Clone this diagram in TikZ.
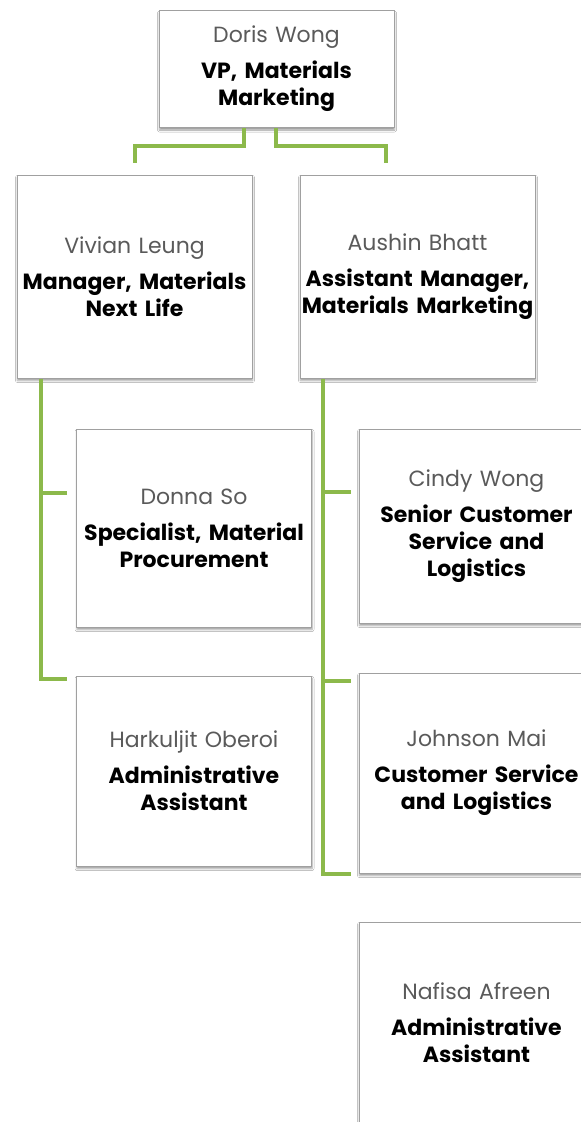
\documentclass[tikz,border=0pt]{standalone}
\usepackage{fontspec}
\setmainfont{Poppins}
\usetikzlibrary{shadows.blur}
\definecolor{branchgreen}{RGB}{140,185,75}
\definecolor{namegray}{RGB}{90,90,90}
\definecolor{edgegray}{RGB}{160,160,160}

\newcommand{\person}[2]{{\color{namegray}#1}\par\vspace{9pt}{\bfseries #2}}

\tikzset{
  card/.style={draw=edgegray, line width=1pt, fill=white, minimum width=235pt,
    text width=235pt, inner sep=0pt, align=center, font=\fontsize{22}{27}\selectfont,
    blur shadow={shadow xshift=0.5pt, shadow yshift=-2.5pt, shadow blur radius=2pt, shadow opacity=40}},
  conn/.style={draw=branchgreen, line width=4pt},
}

\begin{document}
\begin{tikzpicture}[x=1pt, y=-1pt]
  \clip (0,0) rectangle (581,1122);
  \fill[white] (0,0) rectangle (581,1122);

  % top
  \node[card, minimum height=117pt] (doris) at (276.5,69) {\person{Doris Wong}{VP, Materials\\Marketing}};
  \node[card, minimum height=203pt] (vivian) at (134.5,276.5) {\person{Vivian Leung}{Manager, Materials\\Next Life}};
  \node[card, minimum height=203pt] (aushin) at (417.5,276.5) {\person{Aushin Bhatt}{Assistant Manager,\\Materials Marketing}};

  % left column
  \node[card, minimum height=198pt] (donna) at (194,528) {\person{Donna So}{Specialist, Material\\Procurement}};
  \node[card, minimum height=190pt] (harkuljit) at (194,771) {\person{Harkuljit Oberoi}{Administrative\\Assistant}};

  % right column
  \node[card, minimum height=194pt] (cindy) at (476.5,526) {\person{Cindy Wong}{Senior Customer\\Service and\\Logistics}};
  \node[card, minimum height=200pt] (johnson) at (476.5,773) {\person{Johnson Mai}{Customer Service\\and Logistics}};
  \node[card, minimum height=202pt] (nafisa) at (476.5,1023) {\person{Nafisa Afreen}{Administrative\\Assistant}};

  % connectors
  \coordinate (viv-in) at ([yshift=12pt]vivian.north);
  \coordinate (aus-in) at ([xshift=-31.5pt, yshift=12pt]aushin.north);
  \draw[conn] ([xshift=-32.5pt]doris.south) -- ++(0,17.5) -| (viv-in);
  \draw[conn] ([xshift=-0.5pt]doris.south) -- ++(0,17.5) -| (aus-in);

  \coordinate (viv-trunk) at ([xshift=-93.5pt]vivian.south);
  \coordinate (donna-hook) at ([xshift=-9pt, yshift=35pt]donna.west);
  \coordinate (hark-hook) at ([xshift=-9pt, yshift=-3pt]harkuljit.north west);
  \draw[conn] (viv-trunk) |- (hark-hook);
  \draw[conn] (donna-hook) -- (donna-hook -| viv-trunk);

  \coordinate (aus-trunk) at ([xshift=-94.5pt]aushin.south);
  \coordinate (cindy-hook) at ([xshift=-8pt, yshift=34pt]cindy.west);
  \coordinate (john-hook) at ([xshift=-8pt, yshift=-8pt]johnson.north west);
  \coordinate (nafisa-hook) at ([xshift=-8pt]johnson.south west);
  \draw[conn] (aus-trunk) |- (nafisa-hook);
  \draw[conn] (cindy-hook) -- (cindy-hook -| aus-trunk);
  \draw[conn] (john-hook) -- (john-hook -| aus-trunk);
\end{tikzpicture}
\end{document}
